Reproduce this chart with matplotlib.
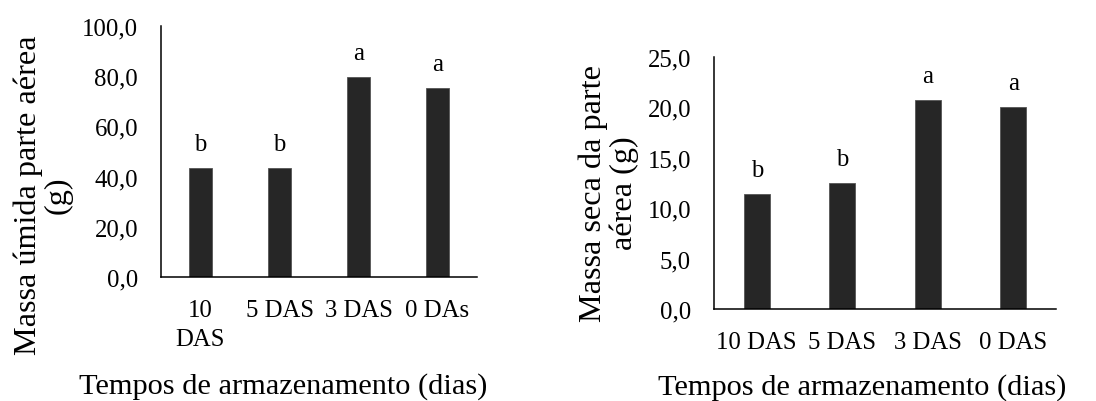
import matplotlib
matplotlib.use("Agg")
import matplotlib.pyplot as plt
import numpy as np

plt.rcParams['font.family'] = ['Liberation Serif', 'DejaVu Serif']

# Data
left_categories = ["10\nDAS", "5 DAS", "3 DAS", "0 DAs"]
left_values = [43.6, 43.5, 79.6, 75.3]
left_letters = ["b", "b", "a", "a"]
left_yticks = [0, 20, 40, 60, 80, 100]

right_categories = ["10 DAS", "5 DAS", "3 DAS", "0 DAS"]
right_values = [11.4, 12.5, 20.7, 20.0]
right_letters = ["b", "b", "a", "a"]
right_yticks = [0, 5, 10, 15, 20, 25]

left_ylabel = "Massa úmida parte aérea\n(g)"
right_ylabel = "Massa seca da parte\naérea (g)"
xlabel = "Tempos de armazenamento (dias)"

BAR = "#262626"
TICK_FS = 17.8
LAB_FS = 23.2

fig = plt.figure(figsize=(10.96, 4.02), dpi=100)

def fmt(v):
    return f"{v:.1f}".replace(".", ",")

def draw(ax, cats, vals, letters, yticks):
    x = np.arange(len(cats))
    ax.bar(x, vals, width=0.3, color=BAR, edgecolor="#555555", linewidth=0.6, zorder=2)
    for xi, v, l in zip(x, vals, letters):
        ax.annotate(l, (xi, v), xytext=(0, 13), textcoords="offset points",
                    ha="center", va="baseline", fontsize=TICK_FS)
    ax.set_xlim(-0.5, len(cats) - 0.5)
    ax.set_ylim(yticks[0], yticks[-1])
    ax.set_yticks(yticks)
    ax.set_yticklabels([fmt(t) for t in yticks], fontsize=TICK_FS)
    ax.set_xticks(x)
    ax.set_xticklabels(cats, fontsize=TICK_FS, linespacing=1.4)
    for s in ["top", "right"]:
        ax.spines[s].set_visible(False)
    for s in ["left", "bottom"]:
        ax.spines[s].set_linewidth(1.1)
        ax.spines[s].set_color("black")
    ax.tick_params(axis="both", length=0)
    ax.tick_params(axis="y", pad=16.5)
    ax.tick_params(axis="x", pad=16)

ax1 = fig.add_axes([161/1096, 1-278/402, 316/1096, 251/402])
draw(ax1, left_categories, left_values, left_letters, left_yticks)
ax2 = fig.add_axes([714/1096, 1-310/402, 342/1096, 252/402])
draw(ax2, right_categories, right_values, right_letters, right_yticks)

fig.text(43/1096, 1-195/402, left_ylabel, rotation=90, ha="center", va="center",
         multialignment="center", fontsize=LAB_FS, linespacing=1.05)
fig.text(609/1096, 1-193/402, right_ylabel, rotation=90, ha="center", va="center",
         multialignment="center", fontsize=LAB_FS, linespacing=1.05)
fig.text(283/1096, 1-387/402, xlabel, ha="center", va="center", fontsize=21.9)
fig.text(862/1096, 1-388/402, xlabel, ha="center", va="center", fontsize=21.9)

fig.savefig("out.png", dpi=100)
